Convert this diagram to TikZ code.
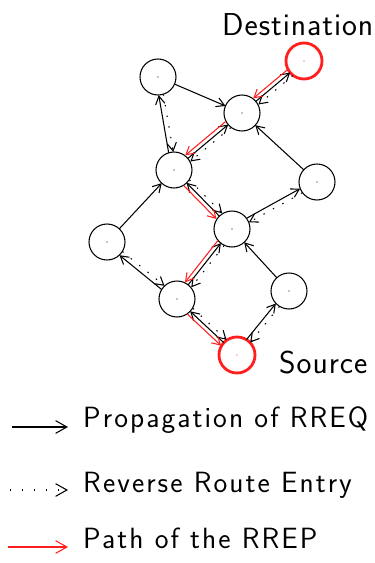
\documentclass[tikz,border=0pt]{standalone}
\usepackage{fontspec}
\usepackage{xcolor}
\usepackage{tikz}
\usetikzlibrary{arrows.meta,calc}
\newfontfamily\keyfont{lmsans17-regular.otf}[LetterSpace=7]
\newfontfamily\lblfont{lmsans17-regular.otf}[LetterSpace=3]
\definecolor{rrepred}{HTML}{FF1F1F}

\begin{document}
\begin{tikzpicture}[
  x=0.3mm,y=-0.3mm,
  font=\sffamily,
  host/.style={draw,circle,line width=0.9pt,minimum size=10.8mm,inner sep=0pt,
    path picture={\fill (path picture bounding box.center) circle (0.6pt);}},
  ends/.style={host,draw=rrepred,line width=2.4pt,
    path picture={\fill[rrepred] (path picture bounding box.center) circle (0.6pt);}},
  lbl/.style={anchor=base west,inner sep=0pt,font=\lblfont\fontsize{27}{32}\selectfont},
  key/.style={anchor=base west,inner sep=0pt,font=\keyfont\fontsize{25}{30}\selectfont},
  side/.style={to path={($(\tikztostart)!#1!90:(\tikztotarget)$) -- ($(\tikztotarget)!#1!-90:(\tikztostart)$)}},
  side/.default=0pt,
  rreq/.style={-{Straight Barb[length=2.4mm,width=2.8mm]},line width=0.9pt,shorten <=5.4mm,shorten >=5.4mm},
  rev/.style={rreq,dash pattern=on 1.2pt off 8pt},
  rrep/.style={rreq,draw=rrepred},
  keyline/.style={-{Straight Barb[length=3.4mm,width=3.8mm]},line width=0.9pt}
]
\useasboundingbox (0,0) rectangle (374,563);

\node[host] (a) at (158,77) {};
\node[host] (b) at (242,113) {};
\node[host] (c) at (174,170) {};
\node[host] (e) at (317,182) {};
\node[host] (f) at (232,229) {};
\node[host] (g) at (107,242) {};
\node[host] (h) at (177,299) {};
\node[host] (i) at (289,291) {};
\node[ends] (dst) at (304,61) {};
\node[ends] (src) at (237,355) {};
\node[lbl] (dstlbl) at (222,35) {Destination};
\node[lbl] (srclbl) at (279,373) {Source};

\draw[rreq] (src) to[side=2pt] (i);
\draw[rev] (i) to[side=2pt] (src);
\draw[rreq] (h) to[side=2pt] (g);
\draw[rev] (g) to[side=2pt] (h);
\draw[rreq] (f) to[side=2pt] (e);
\draw[rev] (e) to[side=2pt] (f);
\draw[rreq] (c) to[side=2pt] (a);
\draw[rev] (a) to[side=2pt] (c);
\draw[rreq] (i) to[side] (f);
\draw[rreq] (g) to[side] (c);
\draw[rreq] (e) to[side] (b);
\draw[rreq] (a) to[side] (b);

\draw[rreq] (src) to[side] (h);
\draw[rev] (h) to[side=3.4pt] (src);
\draw[rrep] (h) to[side=-3.4pt] (src);
\draw[rreq] (h) to[side] (f);
\draw[rev] (f) to[side=3.4pt] (h);
\draw[rrep] (f) to[side=-3.4pt] (h);
\draw[rreq] (f) to[side] (c);
\draw[rev] (c) to[side=3.4pt] (f);
\draw[rrep] (c) to[side=-3.4pt] (f);
\draw[rreq] (c) to[side] (b);
\draw[rev] (b) to[side=3.4pt] (c);
\draw[rrep] (b) to[side=-3.4pt] (c);
\draw[rreq] (b) to[side] (dst);
\draw[rev] (dst) to[side=3.4pt] (b);
\draw[rrep] (dst) to[side=-3.4pt] (b);

\node[key] (k1) at (83,427) {Propagation of RREQ};
\node[key] (k2) at (83,492) {Reverse Route Entry};
\node[key] (k3) at (83,548) {Path of the RREP};
\coordinate (k1s) at (12,427);
\coordinate (k1e) at (68,427);
\coordinate (k2s) at (10,490);
\coordinate (k2e) at (68,490);
\coordinate (k3s) at (8,547);
\coordinate (k3e) at (68,547);
\draw[keyline] (k1s) -- (k1e);
\draw[keyline,dash pattern=on 1.2pt off 9pt] (k2s) -- (k2e);
\draw[keyline,draw=rrepred] (k3s) -- (k3e);
\end{tikzpicture}
\end{document}
